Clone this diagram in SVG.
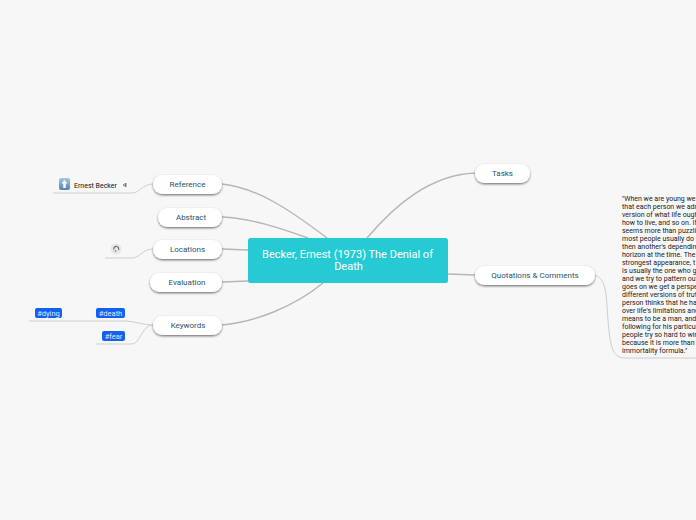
<svg xmlns="http://www.w3.org/2000/svg" width="696" height="520" viewBox="0 0 696 520">
<defs>
<filter id="sh" x="-10%" y="-20%" width="120%" height="160%"><feDropShadow dx="0" dy="1.200" stdDeviation="0.800" flood-color="#000" flood-opacity="0.55"/></filter>
<linearGradient id="ic" x1="0" y1="0" x2="0" y2="1"><stop offset="0" stop-color="#a9c6de"/><stop offset="1" stop-color="#4f86b4"/></linearGradient>
</defs>
<style>
text{font-family:Roboto,"Liberation Sans",sans-serif}
.n{fill:#fff;filter:url(#sh)}
.l{font-size:8px;fill:#1f5468;text-anchor:middle}
.c{fill:none;stroke:#b5b5b5;stroke-width:1.400}
.t{fill:none;stroke:#c8c8c8;stroke-width:0.900}
.tag{fill:#1560f0}
.tt{font-size:7.500px;fill:#dfe9ff;text-anchor:middle}
.q{font-size:7px;fill:#222}
</style>
<rect width="696" height="520" fill="#f7f7f7"/>
<g id="connectors">
<path class="c" d="M222 184C258 188 290 210 327 238"/>
<path class="c" d="M222 217C250 218 280 228 308 238"/>
<path class="c" d="M222 249L248 250"/>
<path class="c" d="M222 282L248 281"/>
<path class="c" d="M222 325C256 322 295 306 323 283"/>
<path class="c" d="M475 173C430 175 395 205 367 238"/>
<path class="c" d="M475 275L448 274"/>
<path class="t" d="M153 184C142 184 140 193 132 193L53 193"/>
<path class="t" d="M153 249C142 249 140 258 132 258L105 258"/>
<path class="t" d="M153 325C142 325 135 321 125 321L29 321"/>
<path class="t" d="M153 325C142 325 140 344 132 344L96 344"/>
<path class="t" d="M595 275C608 280 606 300 608 320C610 345 612 358 625 358L696 358"/>
</g>
<g id="center"><rect x="248" y="238" width="200" height="45" rx="2.500" fill="#26cad3"/>
<text x="347.500" y="258" font-size="11" fill="#fff" text-anchor="middle">Becker, Ernest (1973) The Denial of</text>
<text x="348.500" y="270" font-size="11" fill="#fff" text-anchor="middle">Death</text></g>
<g id="reference"><rect class="n" x="153" y="175" width="69" height="19" rx="9.500"/><text class="l" x="187.500" y="187">Reference</text></g>
<g id="abstract"><rect class="n" x="158" y="208" width="64" height="19" rx="9.500"/><text class="l" x="191" y="220">Abstract</text></g>
<g id="locations"><rect class="n" x="153" y="240" width="69" height="19" rx="9.500"/><text class="l" x="187.500" y="252">Locations</text></g>
<g id="evaluation"><rect class="n" x="150" y="273" width="72" height="19" rx="9.500"/><text class="l" x="187" y="285">Evaluation</text></g>
<g id="keywords"><rect class="n" x="153" y="316" width="69" height="19" rx="9.500"/><text class="l" x="188" y="328">Keywords</text></g>
<g id="tasks"><rect class="n" x="475" y="164" width="55" height="19" rx="9.500"/><text class="l" x="502.500" y="176">Tasks</text></g>
<g id="quotations"><rect class="n" x="475" y="266" width="120" height="19" rx="9.500"/><text class="l" x="535" y="278">Quotations &amp; Comments</text></g>
<g id="ernest-becker">
<rect x="59" y="178" width="11" height="12" rx="2" fill="url(#ic)"/>
<path d="M64.500 180L67.500 183.500H65.700V188H63.300V183.500H61.500Z" fill="#fff"/>
<text x="74" y="187.500" font-size="7" fill="#111">Ernest Becker</text>
<path d="M123 185L125.500 183.500V186.500ZM126 183V187" fill="none" stroke="#555" stroke-width="0.700"/>
</g>
<g id="location-icon">
<circle cx="116" cy="249" r="5.500" fill="#e8e8e8"/>
<path d="M113.800 249.500A2.500 2.500 0 1 1 118.500 250" fill="none" stroke="#777" stroke-width="1.300"/>
<circle cx="115.500" cy="251" r="1" fill="#999"/>
</g>
<g id="tag-dying"><rect class="tag" x="35" y="308" width="27" height="10" rx="2"/><text class="tt" x="48.500" y="315.500">#dying</text></g>
<g id="tag-death"><rect class="tag" x="96" y="308" width="29" height="10" rx="2"/><text class="tt" x="110.500" y="315.500">#death</text></g>
<g id="tag-fear"><rect class="tag" x="102" y="331" width="23" height="10" rx="2"/><text class="tt" x="113.500" y="338.500">#fear</text></g>
<g id="quote">
<text class="q" x="622" y="200.500">"When we are young we</text>
<text class="q" x="622" y="208.500">that each person we adr</text>
<text class="q" x="622" y="216.500">version of what life ough</text>
<text class="q" x="622" y="224.500">how to live, and so on. If</text>
<text class="q" x="622" y="232.500">seems more than puzzli</text>
<text class="q" x="622" y="240.500">most people usually do i</text>
<text class="q" x="622" y="248.500">then another's dependin</text>
<text class="q" x="622" y="256.500">horizon at the time. The</text>
<text class="q" x="622" y="264.500">strongest appearance, t</text>
<text class="q" x="622" y="272.500">is usually the one who g</text>
<text class="q" x="622" y="280.500">and we try to pattern ou</text>
<text class="q" x="622" y="288.500">goes on we get a perspe</text>
<text class="q" x="622" y="296.500">different versions of trut</text>
<text class="q" x="622" y="304.500">person thinks that he ha</text>
<text class="q" x="622" y="312.500">over life's limitations and</text>
<text class="q" x="622" y="320.500">means to be a man, and</text>
<text class="q" x="622" y="328.500">following for his particul</text>
<text class="q" x="622" y="336.500">people try so hard to win</text>
<text class="q" x="622" y="344.500">because it is more than r</text>
<text class="q" x="622" y="352.500">immortality formula."</text>
</g>
</svg>
